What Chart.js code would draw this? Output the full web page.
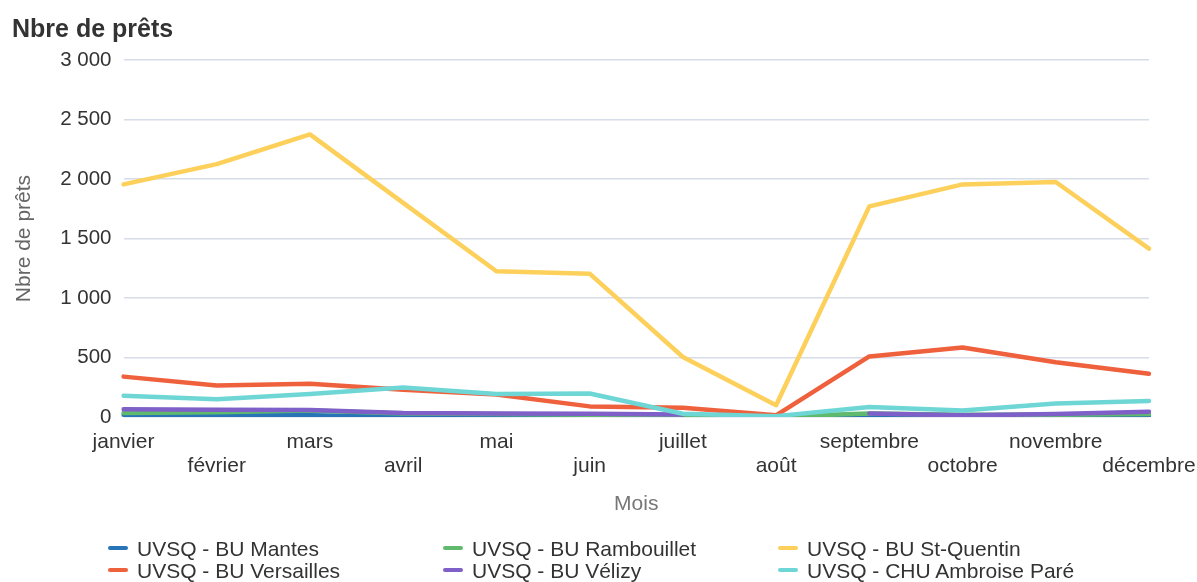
<!DOCTYPE html>
<html>
<head>
<meta charset="utf-8">
<script src="https://cdn.jsdelivr.net/npm/chart.js@4.4.1/dist/chart.umd.min.js"></script>
<style>
    html, body { margin: 0; padding: 0; background: #fff; overflow: hidden; }
    #wrap { position: relative; width: 1197px; height: 582px; }
    #chart { position: absolute; left: 0; top: 0; }
    #legend {
        position: absolute; left: 108px; top: 538px;
        display: grid; grid-template-columns: 335px 335px 335px;
        font-family: "Liberation Sans", Arial, sans-serif; font-size: 21px; color: #333;
        line-height: 22px;
    }
    #legend .item { white-space: nowrap; }
    #legend .sym {
        display: inline-block; width: 20px; height: 4px; border-radius: 2px;
        vertical-align: middle; margin-right: 9px; position: relative; top: -2px;
    }
</style>
</head>
<body>
<div id="wrap">
    <canvas id="chart" width="1197" height="582"></canvas>
    <div id="legend"></div>
</div>
<script>
// Categories
const months = ['janvier', 'février', 'mars', 'avril', 'mai', 'juin',
    'juillet', 'août', 'septembre', 'octobre', 'novembre', 'décembre'];

// Series (nombre de prêts par mois)
const seriesNames = ['UVSQ - BU Mantes', 'UVSQ - BU Rambouillet', 'UVSQ - BU St-Quentin',
    'UVSQ - BU Versailles', 'UVSQ - BU Vélizy', 'UVSQ - CHU Ambroise Paré'];
const mantes = [20, 15, 15, 5, 5, 5, 5, 0, 10, 5, 5, 15];
const rambouillet = [35, 40, 55, 30, 25, 20, 15, 5, 30, 20, 20, 25];
const stQuentin = [1955, 2125, 2375, 1800, 1225, 1205, 505, 100, 1770, 1955, 1975, 1415];
const versailles = [340, 265, 280, 230, 190, 90, 78, 15, 510, 585, 460, 365];
const velizy = [65, 62, 60, 35, 30, 28, 22, null, 30, 15, 25, 45];
const chu = [180, 150, 195, 248, 195, 198, 28, 8, 85, 55, 115, 135];
const seriesColors = ['#2775b6', '#5fba6e', '#fcd05a', '#ef603c', '#7f5fc8', '#6fd6d6'];

// Y axis
const yMin = 0;
const yMax = 3000;
const yStep = 500;

const FONT = '"Liberation Sans", Arial, sans-serif';

function formatNumber(v) {
    return String(v).replace(/\B(?=(\d{3})+(?!\d))/g, ' ');
}

const allValues = [mantes, rambouillet, stQuentin, versailles, velizy, chu];

const datasets = allValues.map(function(values, i) {
    return {
        label: seriesNames[i],
        data: values,
        borderColor: seriesColors[i],
        backgroundColor: seriesColors[i],
        borderWidth: 4.5,
        pointRadius: 0,
        pointHoverRadius: 0,
        tension: 0,
        spanGaps: false,
        borderJoinStyle: 'round',
        borderCapStyle: 'round',
        order: allValues.length - i
    };
});

const ctx = document.getElementById('chart').getContext('2d');
new Chart(ctx, {
    type: 'line',
    data: {
        labels: months,
        datasets: datasets
    },
    options: {
        responsive: false,
        animation: false,
        devicePixelRatio: 1,
        layout: {
            padding: { left: 12, right: 48, top: 0, bottom: 51.5 }
        },
        scales: {
            x: {
                grid: {
                    display: false,
                    drawTicks: false
                },
                border: {
                    display: false
                },
                afterFit: function(scale) {
                    // let the last label hang over the right edge like the original
                    scale.paddingRight = 0;
                },
                ticks: {
                    autoSkip: false,
                    maxRotation: 0,
                    minRotation: 0,
                    padding: 14,
                    color: '#333',
                    font: { family: FONT, size: 21, lineHeight: 1.1 },
                    callback: function(value, index) {
                        const label = months[index];
                        return index % 2 === 1 ? ['', label] : label;
                    }
                },
                title: {
                    display: true,
                    text: 'Mois',
                    color: '#777',
                    font: { family: FONT, size: 21, lineHeight: 1.2 },
                    padding: { top: 0, bottom: 14 }
                }
            },
            y: {
                min: yMin,
                max: yMax,
                grid: {
                    color: '#d6dde8',
                    lineWidth: 1.5,
                    drawTicks: false
                },
                border: {
                    display: false
                },
                ticks: {
                    stepSize: yStep,
                    padding: 12,
                    color: '#333',
                    font: { family: FONT, size: 20.5 },
                    callback: function(value) {
                        return formatNumber(value);
                    }
                },
                title: {
                    display: true,
                    text: 'Nbre de prêts',
                    color: '#666',
                    font: { family: FONT, size: 21, lineHeight: 1.2 },
                    padding: { top: 0, bottom: 11 }
                }
            }
        },
        plugins: {
            legend: { display: false },
            tooltip: { enabled: false },
            title: {
                display: true,
                text: 'Nbre de prêts',
                align: 'start',
                color: '#333',
                font: { family: FONT, size: 25, weight: 'bold', lineHeight: 1.2 },
                padding: { top: 15, bottom: 15 }
            }
        }
    }
});

// HTML legend, three columns
const legendEl = document.getElementById('legend');
datasets.forEach(function(ds) {
    const item = document.createElement('div');
    item.className = 'item';
    const sym = document.createElement('span');
    sym.className = 'sym';
    sym.style.background = ds.borderColor;
    item.appendChild(sym);
    item.appendChild(document.createTextNode(ds.label));
    legendEl.appendChild(item);
});
</script>
</body>
</html>
